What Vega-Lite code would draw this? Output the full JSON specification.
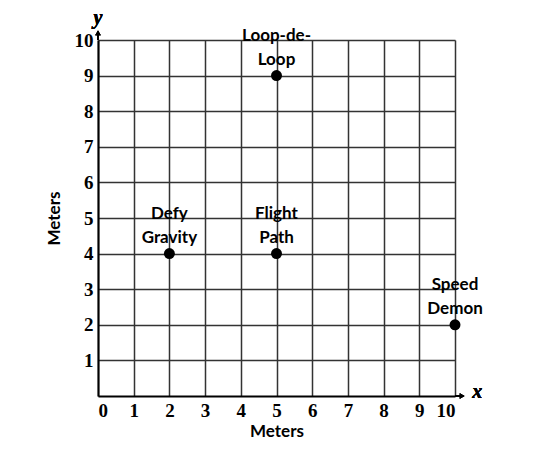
{
  "$schema": "https://vega.github.io/schema/vega-lite/v6.json",
  "width": 357,
  "height": 356,
  "autosize": "none",
  "padding": {"left": 98, "top": 40, "right": 104, "bottom": 63},
  "background": "white",
  "config": {"view": {"stroke": null}},
  "data": {"values": [
    {"x": 2, "y": 4, "label": "Defy\nGravity"},
    {"x": 5, "y": 4, "label": "Flight\nPath"},
    {"x": 5, "y": 9, "label": "Loop-de-\nLoop"},
    {"x": 10, "y": 2, "label": "Speed\nDemon"}
  ]},
  "encoding": {
    "x": {"field": "x", "type": "quantitative",
      "scale": {"domain": [0, 10], "nice": false, "zero": true},
      "axis": {"values": [0,1,2,3,4,5,6,7,8,9,10], "title": "Meters", "grid": true, "gridColor": "#333", "gridWidth": 1.5, "gridOpacity": 1,
        "domainColor": "black", "domainWidth": 2, "ticks": false, "labelPadding": 5,
        "labelFont": "Liberation Serif", "labelFontWeight": "bold", "labelFontSize": 19, "labelColor": "black",
        "titleFont": "Lato", "titleFontWeight": "bold", "titleFontSize": 17, "titleColor": "black", "titlePadding": 3}},
    "y": {"field": "y", "type": "quantitative",
      "scale": {"domain": [0, 10], "nice": false, "zero": true},
      "axis": {"values": [1,2,3,4,5,6,7,8,9,10], "title": "Meters", "grid": true, "gridColor": "#333", "gridWidth": 1.5, "gridOpacity": 1,
        "domainColor": "black", "domainWidth": 2, "ticks": false, "labelPadding": 5,
        "labelFont": "Liberation Serif", "labelFontWeight": "bold", "labelFontSize": 19, "labelColor": "black",
        "titleFont": "Lato", "titleFontWeight": "bold", "titleFontSize": 17, "titleColor": "black", "titlePadding": 11}}
  },
  "layer": [
    {"mark": {"type": "point", "filled": true, "color": "black", "size": 120, "opacity": 1}},
    {"mark": {"type": "text", "font": "Lato", "fontWeight": "bold", "fontSize": 17, "color": "black", "lineBreak": "\n", "lineHeight": 24, "baseline": "bottom", "dy": -31},
     "encoding": {"text": {"field": "label"}}},
    {"mark": {"type": "rule", "color": "black", "strokeWidth": 2},
     "encoding": {"x": {"datum": 0}, "y": {"datum": 10}, "y2": {"datum": 10.2}}},
    {"mark": {"type": "rule", "color": "black", "strokeWidth": 2},
     "encoding": {"x": {"datum": 10}, "x2": {"datum": 10.2}, "y": {"datum": 0}}},
    {"mark": {"type": "point", "shape": "triangle-up", "filled": true, "color": "black", "size": 30, "opacity": 1},
     "encoding": {"x": {"datum": 0}, "y": {"datum": 10.2}}},
    {"mark": {"type": "point", "shape": "triangle-right", "filled": true, "color": "black", "size": 30, "opacity": 1},
     "encoding": {"x": {"datum": 10.2}, "y": {"datum": 0}}},
    {"mark": {"type": "text", "text": "x", "font": "Liberation Serif", "fontStyle": "italic", "fontWeight": "bold", "fontSize": 20, "color": "black", "baseline": "middle"},
     "encoding": {"x": {"datum": 10.62}, "y": {"datum": 0.1}}},
    {"mark": {"type": "text", "text": "y", "font": "Liberation Serif", "fontStyle": "italic", "fontWeight": "bold", "fontSize": 20, "color": "black", "baseline": "middle"},
     "encoding": {"x": {"datum": 0}, "y": {"datum": 10.62}}}
  ]
}
